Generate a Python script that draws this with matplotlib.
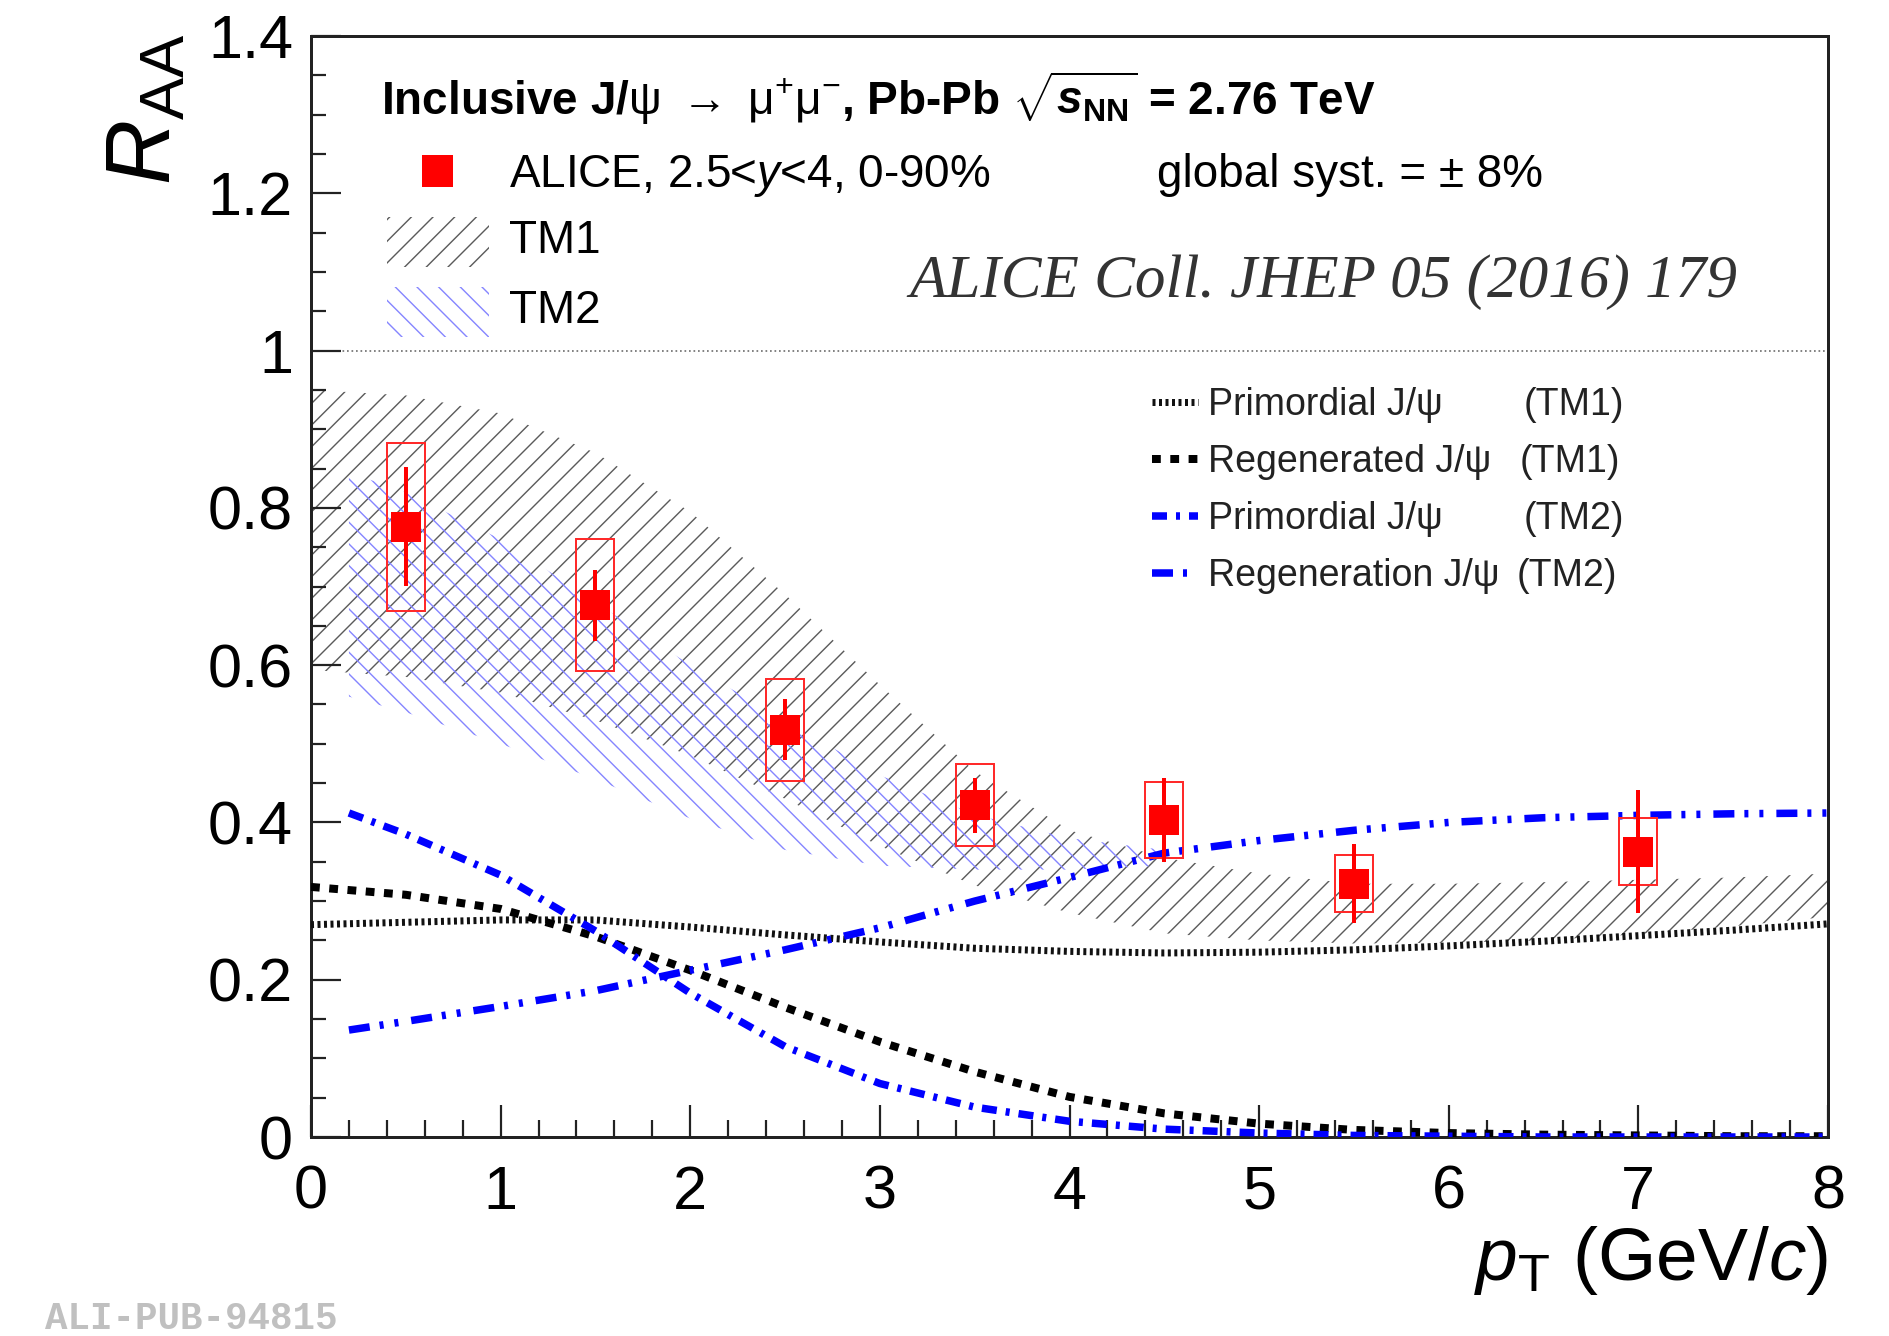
import matplotlib
matplotlib.use('Agg')
import matplotlib.pyplot as plt
from matplotlib.patches import Rectangle
from matplotlib.lines import Line2D
from matplotlib.ticker import MultipleLocator, FuncFormatter

# ---------------- data ----------------
pt_data = [0.5, 1.5, 2.5, 3.5, 4.5, 5.5, 7.0]
raa_data = [0.776, 0.676, 0.518, 0.422, 0.403, 0.322, 0.363]
stat_err = [0.076, 0.045, 0.039, 0.035, 0.053, 0.050, 0.078]
syst_err = [0.107, 0.084, 0.065, 0.052, 0.048, 0.036, 0.042]
box_halfwidth = 0.1

pt_tm1 = [0, 0.5, 1, 1.5, 2, 2.5, 3, 3.5, 4, 4.5, 5, 5.5, 6, 6.5, 7, 7.5, 8]
tm1_low = [0.594, 0.585, 0.565, 0.530, 0.485, 0.430, 0.370, 0.320, 0.285, 0.259,
           0.250, 0.246, 0.247, 0.250, 0.258, 0.268, 0.280]
tm1_high = [0.950, 0.943, 0.920, 0.870, 0.795, 0.690, 0.575, 0.465, 0.390, 0.355,
            0.335, 0.322, 0.322, 0.324, 0.327, 0.330, 0.335]

pt_tm2 = [0.2, 0.5, 1, 1.5, 2, 2.5, 3, 3.5, 4, 4.5]
tm2_low = [0.560, 0.540, 0.500, 0.455, 0.405, 0.365, 0.345, 0.340, 0.340, 0.345]
tm2_high = [0.845, 0.820, 0.760, 0.680, 0.600, 0.530, 0.460, 0.410, 0.380, 0.365]

pt_curve = [0, 0.5, 1, 1.5, 2, 2.5, 3, 3.5, 4, 4.5, 5, 5.5, 6, 6.5, 7, 7.5, 8]
prim_tm1 = [0.270, 0.273, 0.276, 0.276, 0.267, 0.257, 0.248, 0.240, 0.236, 0.234,
            0.235, 0.238, 0.243, 0.249, 0.256, 0.263, 0.271]
regen_tm1 = [0.318, 0.308, 0.290, 0.255, 0.212, 0.165, 0.121, 0.083, 0.051, 0.030,
             0.017, 0.009, 0.005, 0.003, 0.002, 0.001, 0.001]

pt_curve2 = [0.2, 0.5, 1, 1.5, 2, 2.5, 3, 3.5, 4, 4.5, 5, 5.5, 6, 6.5, 7, 7.5, 8]
prim_tm2 = [0.412, 0.385, 0.333, 0.262, 0.183, 0.115, 0.068, 0.038, 0.020, 0.010,
            0.005, 0.002, 0.001, 0.0, 0.0, 0.0, 0.0]
regen_tm2 = [0.136, 0.147, 0.166, 0.186, 0.212, 0.238, 0.266, 0.300, 0.330, 0.361,
             0.377, 0.390, 0.400, 0.406, 0.409, 0.411, 0.412]

x_ticks = [0, 1, 2, 3, 4, 5, 6, 7, 8]
y_ticks = [0, 0.2, 0.4, 0.6, 0.8, 1.0, 1.2, 1.4]

# ---------------- style ----------------
DPI = 130
S = 100.0 / DPI          # converts "points at 100 dpi" to points at DPI
PX = 72.0 / DPI          # points per output pixel

plt.rcParams['font.family'] = ['Liberation Sans', 'DejaVu Sans']
plt.rcParams['mathtext.fontset'] = 'custom'
plt.rcParams['mathtext.rm'] = 'Liberation Sans'
plt.rcParams['mathtext.it'] = 'Liberation Sans:italic'
plt.rcParams['mathtext.bf'] = 'Liberation Sans:bold'
plt.rcParams['mathtext.bfit'] = 'Liberation Sans:bold:italic'
plt.rcParams['mathtext.sf'] = 'Liberation Sans'
plt.rcParams['lines.scale_dashes'] = False
plt.rcParams['hatch.linewidth'] = 1.4 * PX

W, H = 1889, 1336
fig = plt.figure(figsize=(W / DPI, H / DPI), dpi=DPI)


def fx(x):
    return x / W


def fy(y):
    return 1 - y / H


def d(*px):
    return tuple(v * PX for v in px)


ax = fig.add_axes([fx(311), fy(1137), fx(1828) - fx(311), fy(36) - fy(1137)])
ax.set_xlim(0, 8)
ax.set_ylim(0, 1.4)

GRAY_HATCH = '#5a5a5a'
BLUE_HATCH = '#8585ff'

styles = {
    'prim_tm1': dict(color='#111111', lw=7 * PX, dashes=d(3.0, 3.5), dash_capstyle='butt'),
    'regen_tm1': dict(color='black', lw=8 * PX, dashes=d(8.8, 9.5), dash_capstyle='butt'),
    'prim_tm2': dict(color='#0000ff', lw=7.5 * PX, dashes=d(15, 9, 4, 9), dash_capstyle='butt'),
    'regen_tm2': dict(color='#0000ff', lw=7.5 * PX, dashes=d(21, 10, 4, 11, 4, 13),
                      dash_capstyle='butt'),
}

# bands
ax.fill_between(pt_tm1, tm1_low, tm1_high, facecolor='none', edgecolor=GRAY_HATCH,
                hatch='//', linewidth=0, zorder=1)
ax.fill_between(pt_tm2, tm2_low, tm2_high, facecolor='none', edgecolor=BLUE_HATCH,
                hatch='\\\\', linewidth=0, zorder=1.1)

ax.axhline(1.0, color='#777777', lw=1.8 * PX, ls=(0, d(1.7, 2.8)), zorder=1)

# curves
ax.plot(pt_curve, prim_tm1, zorder=3, **styles['prim_tm1'])
ax.plot(pt_curve, regen_tm1, zorder=3, **styles['regen_tm1'])
ax.plot(pt_curve2, prim_tm2, zorder=3, **styles['prim_tm2'])
ax.plot(pt_curve2, regen_tm2, zorder=3, **styles['regen_tm2'])

# data
for x, y, s in zip(pt_data, raa_data, syst_err):
    ax.add_patch(Rectangle((x - box_halfwidth, y - s), 2 * box_halfwidth, 2 * s,
                           facecolor='none', edgecolor='#ff2a2a', lw=2 * PX, zorder=4))
ax.errorbar(pt_data, raa_data, yerr=stat_err, fmt='s', color='#ff0000', ms=30 * PX,
            elinewidth=4 * PX, capsize=0, mew=0, zorder=5)

# axes styling
for sp in ax.spines.values():
    sp.set_linewidth(3 * PX)
    sp.set_color('#222222')
ax.set_xticks(x_ticks)
ax.set_yticks(y_ticks)
ax.xaxis.set_minor_locator(MultipleLocator(0.2))
ax.yaxis.set_minor_locator(MultipleLocator(0.05))
fmt = FuncFormatter(lambda v, _: '%g' % round(v, 2))
ax.xaxis.set_major_formatter(fmt)
ax.yaxis.set_major_formatter(fmt)
ax.tick_params(axis='both', which='both', direction='in', top=False, right=False,
               width=2.2 * PX, color='#222222', labelsize=44 * S)
ax.tick_params(axis='x', which='major', length=32 * PX, pad=20 * S)
ax.tick_params(axis='x', which='minor', length=17 * PX)
ax.tick_params(axis='y', which='major', length=30 * PX, pad=13 * S)
ax.tick_params(axis='y', which='minor', length=15 * PX)

# axis labels
fig.text(fx(146), fy(34), r'$R_{\rm AA}$', rotation=90, ha='center', va='top', fontsize=65 * S)
fig.text(fx(1828), fy(1280), r'$p_{\rm T}$ (GeV/$c$)', ha='right', va='baseline',
         fontsize=54 * S)

# header
fig.text(fx(381), fy(115),
         r'Inclusive J/$\mathrm{\psi}$ $\rightarrow$ $\mathrm{\mu}^{+}\mathrm{\mu}^{-}$, Pb-Pb '
         r'$\sqrt{\mathbfit{s}_{\mathbf{NN}}}$ = 2.76 TeV',
         fontweight='bold', fontsize=33 * S, ha='left', va='baseline')

# legend (upper left)
fig.add_artist(Rectangle((fx(422), fy(187)), fx(453) - fx(422), fy(155) - fy(187),
                         transform=fig.transFigure, facecolor='#ff0000', edgecolor='none'))
fig.text(fx(509), fy(187), r'ALICE, 2.5<$y$<4, 0-90%', fontsize=33 * S, va='baseline')
fig.text(fx(1157), fy(187), 'global syst. = \u00b1 8%', fontsize=33 * S, va='baseline')
fig.add_artist(Rectangle((fx(387), fy(267)), fx(489) - fx(387), fy(217) - fy(267),
                         transform=fig.transFigure, facecolor='none', edgecolor=GRAY_HATCH,
                         hatch='//', lw=0))
fig.text(fx(509), fy(253), 'TM1', fontsize=33 * S, va='baseline')
fig.add_artist(Rectangle((fx(387), fy(337)), fx(489) - fx(387), fy(287) - fy(337),
                         transform=fig.transFigure, facecolor='none', edgecolor=BLUE_HATCH,
                         hatch='\\\\', lw=0))
fig.text(fx(509), fy(323), 'TM2', fontsize=33 * S, va='baseline')

# reference
fig.text(fx(909), fy(297), 'ALICE Coll. JHEP 05 (2016) 179', fontsize=44 * S, style='italic',
         family=['Liberation Serif', 'DejaVu Serif'], color='#333333', va='baseline')

# legend (right)
leg_rows = [402, 459, 516, 573]
leg_keys = ['prim_tm1', 'regen_tm1', 'prim_tm2', 'regen_tm2']
leg_names = ['Primordial J/\u03c8', 'Regenerated J/\u03c8', 'Primordial J/\u03c8',
             'Regeneration J/\u03c8']
leg_tags = ['(TM1)', '(TM1)', '(TM2)', '(TM2)']
tag_x = [1524, 1520, 1524, 1517]
for yrow, key, name, tag, tx in zip(leg_rows, leg_keys, leg_names, leg_tags, tag_x):
    fig.add_artist(Line2D([fx(1152), fx(1198)], [fy(yrow), fy(yrow)],
                          transform=fig.transFigure, **styles[key]))
    fig.text(fx(1208), fy(yrow + 13), name, fontsize=27 * S, va='baseline', color='#222222')
    fig.text(fx(tx), fy(yrow + 13), tag, fontsize=27 * S, va='baseline', color='#222222')

fig.text(fx(45), fy(1329), 'ALI-PUB-94815', fontsize=27 * S, fontweight='bold',
         family=['Liberation Mono', 'DejaVu Sans Mono'], color='#c0c0c0', va='baseline')

fig.savefig('out.png', dpi=DPI)
